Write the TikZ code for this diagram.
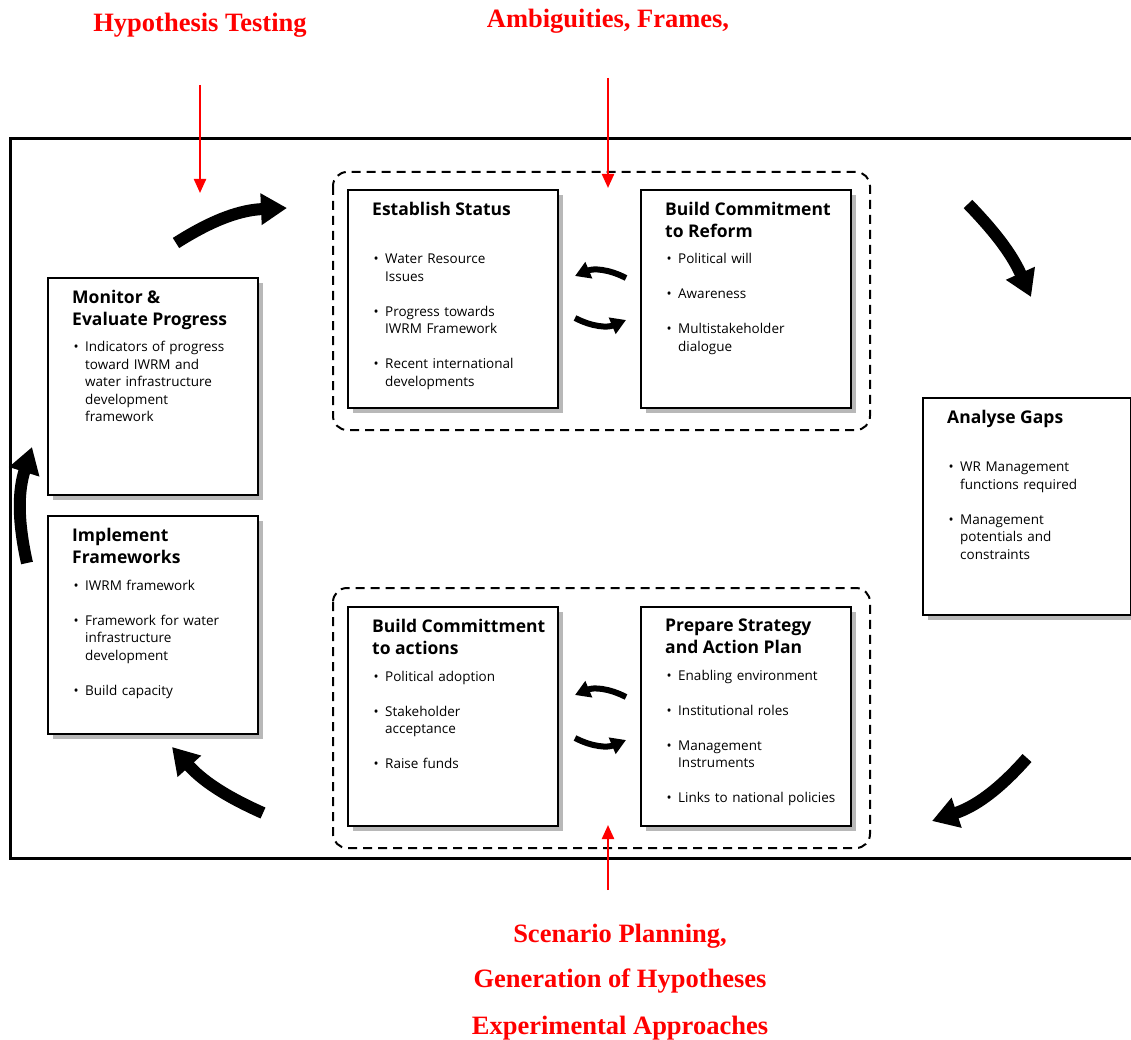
\documentclass[tikz,border=0pt]{standalone}
\usepackage{fontspec}
\usepackage{graphicx}
\setmainfont{Open Sans}
\newfontfamily\notefont{Liberation Serif}
\usetikzlibrary{arrows.meta,shadows}

% panel title and bullet lines
\newcommand{\ttl}[1]{{\noindent\fontsize{17.5}{22}\selectfont\bfseries #1\par}\vspace{9pt}}
\newcommand{\bul}[1]{{\let\\\newline\hangindent=13pt\hangafter=1\noindent\makebox[13pt][l]{\hspace{1.5pt}\textbullet}#1\par}\vspace{17.5pt}}

\tikzset{
  panel/.style={draw, line width=2pt, fill=white, anchor=north west, inner sep=0pt,
    drop shadow={shadow xshift=5pt, shadow yshift=-5pt, fill=black!28, opacity=1}},
  panel text/.style={anchor=north west, inner sep=0pt, text width=200pt, align=left,
    font=\fontsize{13.5}{17.5}\selectfont},
  group/.style={draw, dash pattern=on 9pt off 6pt, line width=2pt, rounded corners=14pt},
  flow/.style={line width=12pt, -{Triangle[length=26pt, width=30pt]}},
  swap/.style={line width=6pt, -{Triangle[length=15pt, width=17pt]}},
  note/.style={text=red, font=\notefont\bfseries\fontsize{26.5}{30}\selectfont},
  hint/.style={red, line width=2.2pt, -{Triangle[length=14pt, width=12pt]}}
}

\begin{document}
\begin{tikzpicture}[x=1pt, y=-1pt]
\useasboundingbox (0,0) rectangle (1131,1040);

% outer frame
\draw[line width=3pt] (1131,139) -- (10,139) -- (10,858) -- (1131,858);

% dashed groups
\draw[group] (333,172) rectangle (870,430);
\draw[group] (333,588) rectangle (870,848);

% panels
\node[panel, minimum width=210pt, minimum height=217pt] (monitor) at (47,277) {};
\node[panel, minimum width=210pt, minimum height=218pt] (implement) at (47,515) {};
\node[panel, minimum width=210pt, minimum height=218pt] (status) at (347,189) {};
\node[panel, minimum width=210pt, minimum height=218pt] (reform) at (640,189) {};
\node[panel, minimum width=210pt, minimum height=219pt] (actions) at (347,606) {};
\node[panel, minimum width=210pt, minimum height=219pt] (strategy) at (640,606) {};
\node[panel, minimum width=208pt, minimum height=217pt] (gaps) at (922,397) {};

\node[panel text] (monitor-t) at ([xshift=25pt, yshift=-13pt]monitor.north west)
  {\ttl{Monitor \&\\Evaluate Progress}
   \bul{Indicators of progress\\toward IWRM and\\water infrastructure\\development\\framework}};
\node[panel text] (implement-t) at ([xshift=25pt, yshift=-13pt]implement.north west)
  {\ttl{Implement\\Frameworks}
   \bul{IWRM framework}
   \bul{Framework for water\\infrastructure\\development}
   \bul{Build capacity}};
\node[panel text] (status-t) at ([xshift=25pt, yshift=-13pt]status.north west)
  {\ttl{Establish Status\\\mbox{}}
   \bul{Water Resource\\Issues}
   \bul{Progress towards\\IWRM Framework}
   \bul{Recent international\\developments}};
\node[panel text] (reform-t) at ([xshift=25pt, yshift=-13pt]reform.north west)
  {\ttl{Build Commitment\\to Reform}
   \bul{Political will}
   \bul{Awareness}
   \bul{Multistakeholder\\dialogue}};
\node[panel text] (actions-t) at ([xshift=25pt, yshift=-13pt]actions.north west)
  {\ttl{Build Committment\\to actions}
   \bul{Political adoption}
   \bul{Stakeholder\\acceptance}
   \bul{Raise funds}};
\node[panel text] (strategy-t) at ([xshift=25pt, yshift=-13pt]strategy.north west)
  {\ttl{Prepare Strategy\\and Action Plan}
   \bul{Enabling environment}
   \bul{Institutional roles}
   \bul{Management\\Instruments}
   \bul{Links to national policies}};
\node[panel text] (gaps-t) at ([xshift=25pt, yshift=-13pt]gaps.north west)
  {\ttl{Analyse Gaps\\\mbox{}}
   \bul{WR Management\\functions required}
   \bul{Management\\potentials and\\constraints}};

% cycle arrows
\coordinate (c1a) at (176,243);  \coordinate (c1b) at (287,208);
\coordinate (c2a) at (968,204);  \coordinate (c2b) at (1031,297);
\coordinate (c3a) at (1027,758); \coordinate (c3b) at (932,821);
\coordinate (c4a) at (263,813);  \coordinate (c4b) at (172,747);
\coordinate (c5a) at (27,563);   \coordinate (c5b) at (32,447);
\draw[flow] (c1a) to[bend left=15] (c1b);
\draw[flow] (c2a) to[bend left=10] (c2b);
\draw[flow] (c3a) to[bend left=15] (c3b);
\draw[flow] (c4a) to[bend left=12] (c4b);
\draw[flow] (c5a) to[bend left=15] (c5b);

% back and forth between panels
\coordinate (s1a) at (626,278); \coordinate (s1b) at (575,276);
\coordinate (s2a) at (575,318); \coordinate (s2b) at (626,320);
\coordinate (s3a) at (626,697); \coordinate (s3b) at (575,695);
\coordinate (s4a) at (575,738); \coordinate (s4b) at (626,740);
\draw[swap] (s1a) to[bend right=25] (s1b);
\draw[swap] (s2a) to[bend right=25] (s2b);
\draw[swap] (s3a) to[bend right=25] (s3b);
\draw[swap] (s4a) to[bend right=25] (s4b);

% red notes
\node[note] (hyp) at (200,25) {Hypothesis Testing};
\node[note] (amb) at (608,21) {Ambiguities, Frames,};
\node[note] (scen) at (620,936) {Scenario Planning,};
\node[note] (gen) at (620,981) {Generation of Hypotheses};
\node[note] (expt) at (620,1028) {Experimental Approaches};

\coordinate (hyp-a) at (200,85);  \coordinate (hyp-b) at (200,193);
\coordinate (amb-a) at (608,78);  \coordinate (amb-b) at (608,188);
\coordinate (scen-a) at (608,890); \coordinate (scen-b) at (608,825);
\draw[hint] (hyp-a) -- (hyp-b);
\draw[hint] (amb-a) -- (amb-b);
\draw[hint] (scen-a) -- (scen-b);

\end{tikzpicture}
\end{document}
